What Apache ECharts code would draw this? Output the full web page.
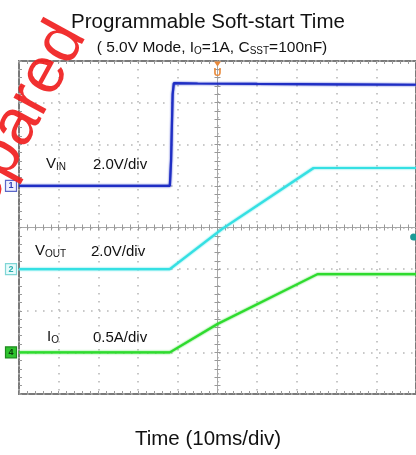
<!DOCTYPE html>
<html>
<head>
<meta charset="utf-8">
<script src="https://cdn.jsdelivr.net/npm/echarts@6/dist/echarts.min.js"></script>
<style>
  html, body { margin: 0; padding: 0; background: #fff; }
  #chart { width: 416px; height: 455px; }
</style>
</head>
<body>
<div id="chart"></div>
<script>
// scope screen, units = divisions (x: 10ms/div, y: per channel scale), centre = 0,0
var vinTime = [-5, -1.2, -1.17, -1.13, -1.1, -0.5, 1, 3, 5];
var vinLevel = [1.0, 1.0, 1.6, 3.2, 3.47, 3.46, 3.45, 3.44, 3.43];
var voutTime = [-5, -1.2, 0.11, 2.42, 5];
var voutLevel = [-1.0, -1.0, -0.04, 1.43, 1.43];
var ioTime = [-5, -1.2, 0, 2.52, 5];
var ioLevel = [-3.0, -3.0, -2.32, -1.12, -1.12];
var channelNames = ['1', '2', '4'];
var channelOffsets = [1.0, -1.0, -3.0];
var triggerLevel = -0.23;

function pairs(xs, ys) {
    var out = [];
    for (var i = 0; i < xs.length; i++) {
        out.push([xs[i], ys[i]]);
    }
    return out;
}

var chart = echarts.init(document.getElementById('chart'));

var gridLine = { show: true, lineStyle: { color: '#b8b8b8', width: 1.6, type: [1.6, 6.4] } };

function xAx(pos, onZero, inside, split) {
    return {
        type: 'value', min: -5, max: 5, interval: 1, position: pos,
        axisLine: { show: onZero, onZero: onZero, lineStyle: { color: '#a8a8a8', width: 1 } },
        axisTick: { show: true, inside: inside, length: 3, lineStyle: { color: '#999' } },
        minorTick: { show: true, splitNumber: 5, length: 3, lineStyle: { color: '#999' } },
        axisLabel: { show: false },
        splitLine: split ? gridLine : { show: false }
    };
}
function yAx(pos, onZero, inside, split) {
    return {
        type: 'value', min: -4, max: 4, interval: 1, position: pos,
        axisLine: { show: onZero, onZero: onZero, lineStyle: { color: '#a8a8a8', width: 1 } },
        axisTick: { show: true, inside: inside, length: 3, lineStyle: { color: '#999' } },
        minorTick: { show: true, splitNumber: 5, length: 3, lineStyle: { color: '#999' } },
        axisLabel: { show: false },
        splitLine: split ? gridLine : { show: false }
    };
}

function chanMark(idx, color, fill, textColor) {
    return {
        coord: [-5, channelOffsets[idx]],
        symbol: 'rect', symbolSize: [11, 11], symbolOffset: [-8, 0],
        itemStyle: { color: fill, borderColor: color, borderWidth: 1.2 },
        label: { show: true, position: 'inside', formatter: channelNames[idx],
                 color: textColor, fontSize: 9, fontWeight: 'bold' }
    };
}

function trace(name, xs, ys, color, marks) {
    return {
        name: name, type: 'line', data: pairs(xs, ys),
        showSymbol: false, smooth: false, clip: false,
        lineStyle: { color: color, width: 2.2, shadowColor: color, shadowBlur: 2 },
        markPoint: { silent: true, data: marks }
    };
}

var option = {
    animation: false,
    backgroundColor: '#fff',
    grid: { left: 19, top: 61, width: 403, height: 333, show: true,
            borderColor: '#7a7a7a', borderWidth: 2 },
    xAxis: [xAx('bottom', true, false, true), xAx('top', true, false, false),
            xAx('top', false, true, false), xAx('bottom', false, true, false)],
    yAxis: [yAx('left', true, false, true), yAx('right', true, false, false),
            yAx('left', false, true, false)],
    title: [
        { text: 'Programmable Soft-start Time', left: 'center', top: 7,
          textStyle: { fontFamily: 'Liberation Sans, Arial', fontSize: 20.5, fontWeight: 'normal', color: '#111' } },
        { text: 'Time (10ms/div)', left: 'center', top: 424,
          textStyle: { fontFamily: 'Liberation Sans, Arial', fontSize: 20.5, fontWeight: 'normal', color: '#111' } }
    ],
    series: [
        trace('VIN', vinTime, vinLevel, '#1f2ec4', [
            chanMark(0, '#5a66c8', '#eef0ff', '#3440b8'),
            { coord: [0, 4], symbol: 'triangle', symbolRotate: 180, symbolSize: [7, 5],
              symbolOffset: [0, 3], itemStyle: { color: '#e8893a' },
              label: { show: true, position: 'bottom', distance: 1, formatter: 'U',
                       color: '#e8893a', fontSize: 11, fontWeight: 'bold' } }
        ]),
        trace('VOUT', voutTime, voutLevel, '#35e0e3', [
            chanMark(1, '#7fd6d6', '#e6fbfb', '#2cb0b0'),
            { coord: [4.94, triggerLevel], symbol: 'circle', symbolSize: 7,
              itemStyle: { color: '#1a9a96' }, label: { show: false } }
        ]),
        trace('IO', ioTime, ioLevel, '#2edb2e', [
            chanMark(2, '#1e8a1e', '#2fc42f', '#0d3d0d')
        ])
    ],
    graphic: [
        { type: 'text', x: 212, y: 56, style: {
            text: '( 5.0V Mode, I{s|O}=1A, C{s|SST}=100nF)', textAlign: 'center', textVerticalAlign: 'bottom',
            font: '15.5px Liberation Sans, Arial', fill: '#111',
            rich: { s: { fontSize: 10, padding: [6, 0, 0, 0], fill: '#111' } } } },
        { type: 'text', x: 46, y: 172, style: {
            text: 'V{s|IN}', textVerticalAlign: 'bottom', font: '15px Liberation Sans, Arial', fill: '#111',
            rich: { s: { fontSize: 10, padding: [6, 0, 0, 0] } } } },
        { type: 'text', x: 93, y: 172, style: {
            text: '2.0V/div', textVerticalAlign: 'bottom', font: '15px Liberation Sans, Arial', fill: '#111' } },
        { type: 'text', x: 35, y: 259, style: {
            text: 'V{s|OUT}', textVerticalAlign: 'bottom', font: '15px Liberation Sans, Arial', fill: '#111',
            rich: { s: { fontSize: 10, padding: [6, 0, 0, 0] } } } },
        { type: 'text', x: 91, y: 259, style: {
            text: '2.0V/div', textVerticalAlign: 'bottom', font: '15px Liberation Sans, Arial', fill: '#111' } },
        { type: 'text', x: 47, y: 345, style: {
            text: 'I{s|O}', textVerticalAlign: 'bottom', font: '15px Liberation Sans, Arial', fill: '#111',
            rich: { s: { fontSize: 10, padding: [6, 0, 0, 0] } } } },
        { type: 'text', x: 93, y: 345, style: {
            text: '0.5A/div', textVerticalAlign: 'bottom', font: '15px Liberation Sans, Arial', fill: '#111' } },
        // red watermark, mostly off the page
        { type: 'text', x: -86, y: 246, rotation: 1.07, z: 100, style: {
            text: 'Prepared', font: '65px Liberation Sans, Arial', fill: 'rgba(240,30,30,0.92)',
            textVerticalAlign: 'alphabetic' } }
    ]
};

chart.setOption(option);
</script>
</body>
</html>
